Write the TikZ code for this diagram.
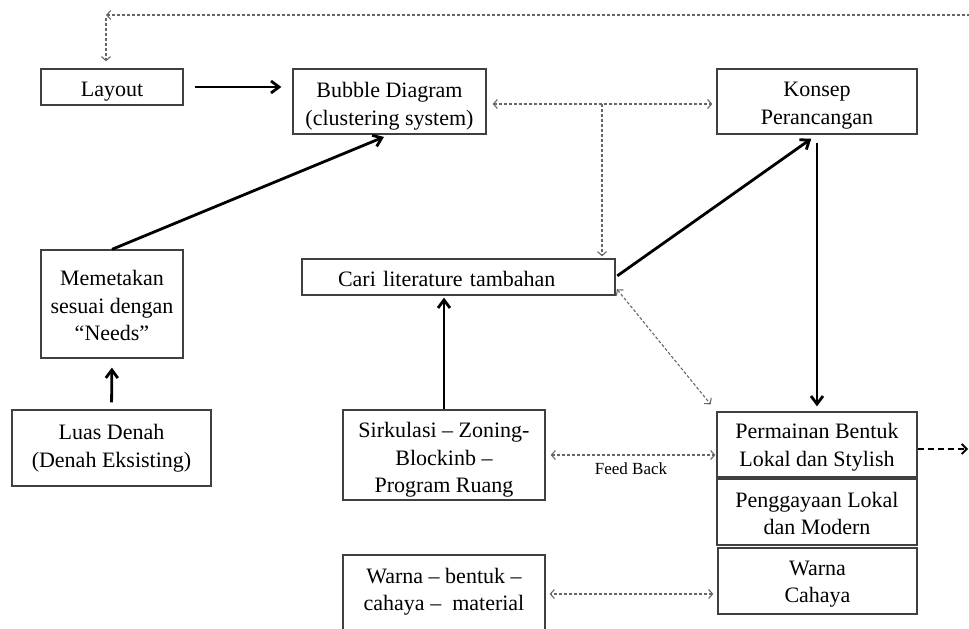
\documentclass[tikz,border=0pt]{standalone}
\usepackage{fontspec}
\setmainfont{Liberation Serif}
\usetikzlibrary{positioning,calc,arrows.meta}
\newcommand\turun[1]{\rule{0pt}{#1}}
\begin{document}
\begin{tikzpicture}[x=1pt,y=-1pt,
  box/.style={draw=black!75,line width=1.3pt,align=center,inner sep=0pt,font=\fontsize{22}{27.5}\selectfont},
  flow/.style={-{Straight Barb[length=8pt,width=12pt]},line width=2.8pt,black},
  link/.style={{Straight Barb[length=4pt,width=9pt]}-{Straight Barb[length=4pt,width=9pt]},line width=1.1pt,black!60,dash pattern=on 3pt off 2pt},
  ujung/.style={-{Straight Barb[length=4pt,width=9pt]}},
]
\useasboundingbox (0,0) rectangle (969,629);
\clip (0,0) rectangle (969,629);
\node[box,name=layout,minimum width=142pt,minimum height=36pt] at (112,87){\turun{23pt}Layout};
\node[box,name=bubble,minimum width=193pt,minimum height=65pt] at (389.5,101.5){\turun{25pt}Bubble Diagram\\(clustering system)};
\node[box,name=konsep,minimum width=200pt,minimum height=65pt] at (817,101.5){\turun{23pt}Konsep\\Perancangan};
\node[box,name=peta,minimum width=142pt,minimum height=108pt] at (112,304){\turun{19pt}Memetakan\\sesuai dengan\\“Needs”};
\node[box,name=cari,text width=241pt,inner xsep=36pt,align=left,minimum height=36pt] at (458.5,277){\turun{19pt}Cari literature tambahan};
\node[box,name=luas,minimum width=199pt,minimum height=76pt] at (111.5,448){Luas Denah\\(Denah Eksisting)};
\node[box,name=sirkulasi,minimum width=202pt,minimum height=90pt] at (444,455){\turun{25pt}Sirkulasi – Zoning-\\Blockinb –\\Program Ruang};
\node[box,name=warna,minimum width=202pt,minimum height=92pt] at (444,601){\turun{19pt}Warna – bentuk –\\cahaya –~ material\\~};
\node[box,name=permainan,minimum width=200pt,minimum height=65pt] at (817,444.5){\turun{21pt}Permainan Bentuk\\Lokal dan Stylish};
\node[box,name=gaya,minimum width=200pt,minimum height=66pt] at (817,512){\turun{18pt}Penggayaan Lokal\\dan Modern};
\node[box,name=cahaya,minimum width=199pt,minimum height=66pt] at (817.5,581){\turun{21pt}Warna\\Cahaya};
\coordinate (topr) at (975,15);
\coordinate (topl) at (106,15);
\coordinate (split) at (602,104);
\coordinate (keluar) at (968,449);
% alur utama
\draw[flow,shorten <=11pt,shorten >=11pt] (layout.east)--(layout.east -| bubble.west);
\draw[flow,shorten >=6pt] (peta.north)--(bubble.south);
\draw[flow,shorten <=7pt,shorten >=9pt] (luas.north)--(peta.south);
\draw[flow,shorten >=2pt] (sirkulasi.north)--(sirkulasi.north |- cari.south);
\draw[flow,shorten <=2pt,shorten >=7pt] (cari.east)--(konsep.south);
\draw[flow,shorten <=8pt,shorten >=5pt] (konsep.south)--(permainan.north);
% umpan balik
\draw[link,shorten <=6pt,shorten >=4pt] ([yshift=-2.5pt]bubble.east)--([yshift=-2.5pt]konsep.west);
\draw[link,ujung,shorten >=2pt] (split)--(split |- cari.north);
\draw[link,shorten <=2pt,shorten >=9pt] ([yshift=8pt]cari.south east)--(permainan.north west);
\draw[link,shorten <=5pt,shorten >=1pt] (sirkulasi.east)--(sirkulasi.east -| permainan.west)node[midway,below=4pt,font=\fontsize{17}{20}\selectfont,black]{Feed Back};
\draw[link,shorten <=4pt,shorten >=4pt] ([yshift=-13pt]cahaya.west)--([yshift=-13pt]cahaya.west -| warna.east);
\draw[-{Straight Barb[length=5pt,width=10pt]},line width=1.8pt,black,dash pattern=on 6pt off 4pt] ([yshift=-4.5pt]permainan.east)--(keluar);
\draw[link,ujung] (topr)--(topl);
\draw[link,ujung,shorten <=3pt,shorten >=7pt] (topl)--(topl |- layout.north);
\end{tikzpicture}
\end{document}
